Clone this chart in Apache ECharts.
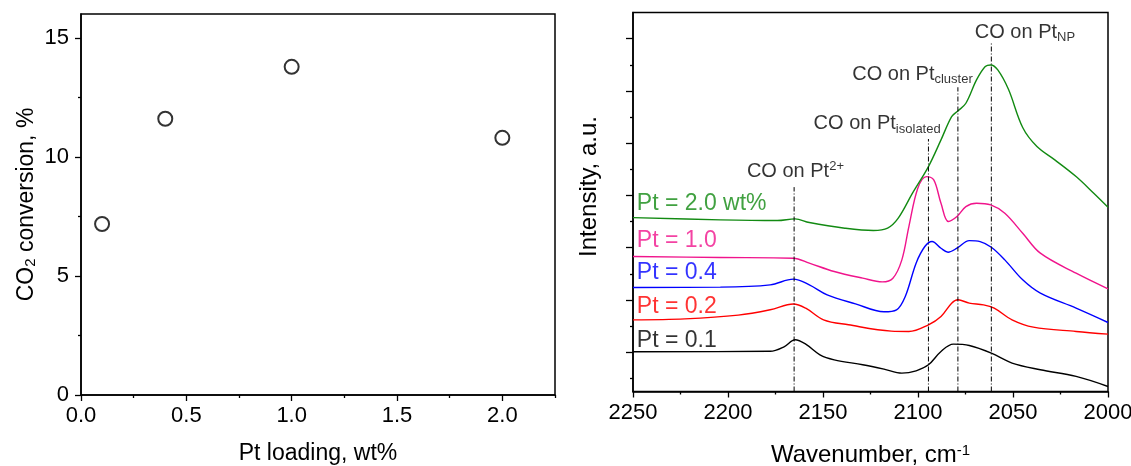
<!DOCTYPE html>
<html style="height: 100%">
<head>
    <meta charset="utf-8">
</head>
<body style="height: 100%; margin: 0; background: #fff">
<div id="container" style="width: 1131px; height: 466px"></div>
<script type="text/javascript" src="https://cdn.jsdelivr.net/npm/echarts@6/dist/echarts.min.js"></script>
<script type="text/javascript">
    var dom = document.getElementById("container");
    var myChart = echarts.init(dom);
    var option;

    // left panel: CO2 conversion vs Pt loading
    var loading = [0.1, 0.4, 1.0, 2.0];
    var conversion = [7.18, 11.6, 13.78, 10.8];
    var convXMajor = [0, 0.5, 1.0, 1.5, 2.0];
    var convXMinor = [0.25, 0.75, 1.25, 1.75, 2.25];
    var convYMajor = [0, 5, 10, 15];
    var convYMinor = [2.5, 7.5, 12.5];

    // right panel: DRIFTS spectra (offset intensities, a.u.)
    var wn01 = [2250, 2177.8, 2170.3, 2164.7, 2159.1, 2151.6, 2144.1, 2129.1, 2117.9, 2108.5, 2101.0, 2094.5, 2087.9, 2081.4, 2073.0, 2061.4, 2050.5, 2035.6, 2016.8, 2000];
    var int01 = [0.76, 0.77, 0.86, 0.989, 0.906, 0.702, 0.606, 0.511, 0.428, 0.351, 0.396, 0.511, 0.766, 0.906, 0.880, 0.734, 0.543, 0.415, 0.288, 0.096];

    var wn02 = [2250, 2222.7, 2194.6, 2177.8, 2165.6, 2159.1, 2149.7, 2136.6, 2114.1, 2104.8, 2094.5, 2087.9, 2082.3, 2079.0, 2073.0, 2065.5, 2059.9, 2050.5, 2039.3, 2016.8, 2000];
    var int02 = [1.371, 1.39, 1.46, 1.563, 1.675, 1.594, 1.371, 1.276, 1.155, 1.148, 1.276, 1.435, 1.690, 1.754, 1.690, 1.658, 1.594, 1.371, 1.231, 1.148, 1.097];

    var wn04 = [2250, 2204.0, 2177.8, 2165.6, 2157.2, 2147.8, 2132.9, 2117.9, 2111.3, 2106.7, 2101.0, 2096.4, 2092.6, 2087.9, 2084.2, 2079.5, 2073.0, 2067.3, 2061.4, 2054.3, 2044.9, 2035.6, 2016.8, 2000];
    var int04 = [1.99, 1.996, 2.040, 2.149, 2.040, 1.849, 1.677, 1.525, 1.562, 1.817, 2.455, 2.773, 2.869, 2.741, 2.665, 2.741, 2.887, 2.868, 2.760, 2.518, 2.136, 1.881, 1.594, 1.320];

    var wn10 = [2250, 2204.0, 2165.6, 2157.2, 2144.1, 2129.1, 2118.8, 2113.2, 2108.5, 2104.8, 2100.1, 2095.5, 2091.7, 2087.9, 2084.0, 2079.5, 2074.8, 2069.2, 2061.7, 2054.3, 2044.9, 2035.6, 2016.8, 2000];
    var int10 = [2.582, 2.563, 2.550, 2.455, 2.295, 2.168, 2.098, 2.168, 2.518, 3.155, 3.888, 4.111, 4.047, 3.601, 3.251, 3.346, 3.537, 3.601, 3.569, 3.410, 3.028, 2.646, 2.263, 1.964];

    var wn20 = [2250, 2204.0, 2174.0, 2164.7, 2157.2, 2138.5, 2123.5, 2116.0, 2110.4, 2102.9, 2094.5, 2087.9, 2082.3, 2079.0, 2074.8, 2069.2, 2064.6, 2061.7, 2058.0, 2052.4, 2044.9, 2037.4, 2028.0, 2016.8, 2007.5, 2000];
    var int20 = [3.327, 3.283, 3.270, 3.302, 3.232, 3.124, 3.079, 3.124, 3.315, 3.793, 4.303, 4.813, 5.259, 5.367, 5.514, 5.960, 6.215, 6.247, 6.151, 5.78, 5.05, 4.686, 4.431, 4.112, 3.793, 3.525];

    var spectraNames = ['Pt = 0.1', 'Pt = 0.2', 'Pt = 0.4', 'Pt = 1.0', 'Pt = 2.0 wt%'];
    var spectraColors = ['#000000', '#ff0000', '#0000ff', '#f0148c', '#128a12'];
    var spectraWn = [wn01, wn02, wn04, wn10, wn20];
    var spectraInt = [int01, int02, int04, int10, int20];
    var nameLabelY = [0.98, 1.63, 2.28, 2.885, 3.59];

    // peak assignment lines and their labels
    var peakWn = [2165.2, 2094.5, 2079.0, 2061.4];
    var peakTop = [3.91, 4.83, 5.82, 6.66];
    var peakText = ['CO on Pt{sup|2+}', 'CO on Pt{sub|isolated}', 'CO on Pt{sub|cluster}', 'CO on Pt{sub|NP}'];
    var peakLabelWn = [2164.5, 2121.5, 2102.9, 2043.7];
    var peakLabelY = [4.2, 5.12, 6.07, 6.87];

    var wnMajor = [2000, 2050, 2100, 2150, 2200, 2250];
    var wnMinor = [2025, 2075, 2125, 2175, 2225];
    var intMajor = [0.75, 1.75, 2.75, 3.75, 4.75, 5.75, 6.75];
    var intMinor = [0.25, 1.25, 2.25, 3.25, 4.25, 5.25, 6.25];

    var font = 'Liberation Sans, Arial, sans-serif';
    var axisLine = {show: true, lineStyle: {color: '#000', width: 1.5}};

    // axis that only draws a set of short ticks
    function tickAxis(pos, grid, min, max, values, inverse) {
        return {
            type: 'value', gridIndex: grid, position: pos, min: min, max: max, inverse: !!inverse,
            axisLine: {show: false},
            axisTick: {show: true, length: 3, customValues: values, lineStyle: {color: '#000', width: 1.3}},
            axisLabel: {show: false},
            splitLine: {show: false}
        };
    }

    var series = [{
        type: 'scatter',
        xAxisIndex: 0, yAxisIndex: 0,
        data: loading.map(function (x, i) { return [x, conversion[i]]; }),
        symbol: 'circle',
        symbolSize: 14,
        itemStyle: {color: '#fff', borderColor: '#000', borderWidth: 2},
        silent: true
    }];

    spectraWn.forEach(function (wn, k) {
        series.push({
            type: 'line',
            xAxisIndex: 1, yAxisIndex: 3,
            data: wn.map(function (x, i) { return [x, spectraInt[k][i]]; }),
            smooth: 0.35,
            symbol: 'none',
            lineStyle: {color: spectraColors[k], width: 1.4},
            silent: true
        });
    });

    peakWn.forEach(function (x, i) {
        series.push({
            type: 'line',
            xAxisIndex: 1, yAxisIndex: 3,
            data: [[x, 0], [x, peakTop[i]]],
            symbol: 'none',
            lineStyle: {color: '#000', width: 1, type: [5, 2, 1, 2]},
            silent: true
        });
    });

    series.push({
        type: 'scatter',
        xAxisIndex: 1, yAxisIndex: 3,
        symbolSize: 0,
        silent: true,
        data: nameLabelY.map(function (y, i) {
            return {
                value: [2248, y],
                name: spectraNames[i],
                label: {color: spectraColors[i]}
            };
        }),
        label: {
            show: true, position: 'right', distance: 0,
            formatter: '{b}', fontSize: 23, fontFamily: font
        }
    });

    series.push({
        type: 'scatter',
        xAxisIndex: 1, yAxisIndex: 3,
        symbolSize: 0,
        silent: true,
        data: peakLabelWn.map(function (x, i) {
            return {value: [x, peakLabelY[i]], name: peakText[i]};
        }),
        label: {
            show: true, position: 'inside',
            formatter: '{b}',
            color: '#000', fontSize: 20, fontFamily: font, lineHeight: 24,
            rich: {
                sub: {fontSize: 13, fontFamily: font, color: '#000', lineHeight: 13, verticalAlign: 'bottom'},
                sup: {fontSize: 13, fontFamily: font, color: '#000', lineHeight: 13, verticalAlign: 'top'}
            }
        }
    });

    option = {
        backgroundColor: '#fff',
        animation: false,
        textStyle: {fontFamily: font},
        grid: [
            {left: 81, top: 14, width: 474, height: 381, show: true, borderColor: '#000', borderWidth: 1.5,
                outerBoundsMode: 'none', containLabel: false},
            {left: 633, top: 12.5, width: 475, height: 379, show: true, borderColor: '#000', borderWidth: 1.5,
                outerBoundsMode: 'none', containLabel: false}
        ],
        xAxis: [{
            type: 'value', gridIndex: 0, position: 'bottom', min: 0, max: 2.25,
            name: 'Pt loading, wt%', nameLocation: 'middle', nameGap: 47,
            nameTextStyle: {fontSize: 23, color: '#000', fontFamily: font},
            axisLine: axisLine,
            axisTick: {show: true, length: 6, customValues: convXMajor, lineStyle: {color: '#000', width: 1.3}},
            axisLabel: {customValues: convXMajor, fontSize: 22, color: '#000', margin: 10, fontFamily: font,
                formatter: function (v) { return v.toFixed(1); }},
            splitLine: {show: false}
        }, {
            type: 'value', gridIndex: 1, position: 'bottom', min: 2000, max: 2250, inverse: true,
            name: 'Wavenumber, cm{sup|-1}', nameLocation: 'middle', nameGap: 52,
            nameTextStyle: {fontSize: 24, color: '#000', fontFamily: font,
                rich: {sup: {fontSize: 15, color: '#000', fontFamily: font, verticalAlign: 'top', lineHeight: 15}}},
            axisLine: axisLine,
            axisTick: {show: true, length: 6, customValues: wnMajor, lineStyle: {color: '#000', width: 1.3}},
            axisLabel: {customValues: wnMajor, fontSize: 22, color: '#000', margin: 10, fontFamily: font,
                formatter: function (v) { return String(v); }},
            splitLine: {show: false}
        },
            tickAxis('bottom', 0, 0, 2.25, convXMinor),
            tickAxis('bottom', 1, 2000, 2250, wnMinor, true)
        ],
        yAxis: [{
            type: 'value', gridIndex: 0, position: 'left', min: 0, max: 16,
            name: 'CO{sub|2} conversion, %', nameLocation: 'middle', nameGap: 43, nameRotate: 90,
            nameTextStyle: {fontSize: 23, color: '#000', fontFamily: font,
                rich: {sub: {fontSize: 15, color: '#000', fontFamily: font, verticalAlign: 'bottom', lineHeight: 15}}},
            axisLine: axisLine,
            axisTick: {show: true, length: 6, customValues: convYMajor, lineStyle: {color: '#000', width: 1.3}},
            axisLabel: {customValues: convYMajor, fontSize: 22, color: '#000', margin: 12, fontFamily: font},
            splitLine: {show: false}
        },
            tickAxis('left', 0, 0, 16, convYMinor),
            tickAxis('left', 1, 0, 7.25, intMinor),
        {
            type: 'value', gridIndex: 1, position: 'left', min: 0, max: 7.25,
            name: 'Intensity, a.u.', nameLocation: 'middle', nameGap: 32, nameRotate: 90,
            nameTextStyle: {fontSize: 24, color: '#000', fontFamily: font, padding: [0, 0, 0, 31]},
            axisLine: axisLine,
            axisTick: {show: true, length: 7, customValues: intMajor, lineStyle: {color: '#000', width: 1.3}},
            axisLabel: {show: false},
            splitLine: {show: false}
        }],
        series: series
    };

    if (option && typeof option === "object") {
        myChart.setOption(option, true);
    }
</script>
</body>
</html>
